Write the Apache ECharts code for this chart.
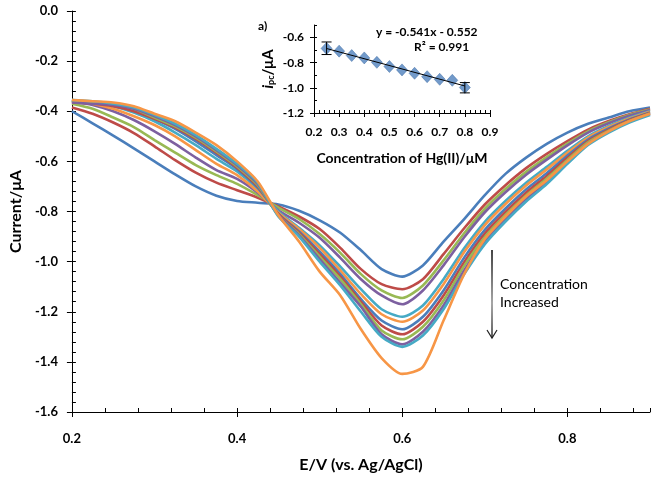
<!DOCTYPE html>
<html>
<head>
<meta charset="utf-8">
<script src="https://cdn.jsdelivr.net/npm/echarts@6.0.0/dist/echarts.min.js"></script>
<style>
  html, body { margin: 0; padding: 0; background: #fff; }
  #chart { width: 652px; height: 482px; }
</style>
</head>
<body>
<div id="chart"></div>
<script>
// potential grid (V vs Ag/AgCl)
const potentials = [0.2, 0.225, 0.25, 0.275, 0.3, 0.325, 0.35, 0.375, 0.4, 0.425, 0.45, 0.475, 0.5, 0.525,
  0.55, 0.575, 0.6, 0.625, 0.65, 0.675, 0.7, 0.725, 0.75, 0.775, 0.8, 0.825, 0.85, 0.875, 0.9]

// current (uA) of each sweep, lowest to highest Hg(II) concentration
const sweep1 = [-0.40, -0.448, -0.497, -0.548, -0.60, -0.652, -0.70, -0.737, -0.758, -0.765, -0.772, -0.797, -0.835, -0.885,
  -0.955, -1.03, -1.06, -1.015, -0.92, -0.83, -0.735, -0.65, -0.585, -0.53, -0.485, -0.45, -0.425, -0.40, -0.385]
const sweep2 = [-0.385, -0.41, -0.445, -0.487, -0.54, -0.595, -0.645, -0.685, -0.715, -0.745, -0.78, -0.82, -0.87, -0.945,
  -1.03, -1.09, -1.11, -1.07, -0.97, -0.867, -0.772, -0.695, -0.627, -0.57, -0.519, -0.473, -0.439, -0.412, -0.39]
const sweep3 = [-0.37, -0.39, -0.425, -0.463, -0.515, -0.565, -0.615, -0.655, -0.69, -0.735, -0.785, -0.83, -0.89, -0.965,
  -1.05, -1.115, -1.145, -1.095, -0.995, -0.887, -0.789, -0.71, -0.642, -0.583, -0.529, -0.48, -0.444, -0.415, -0.393]
const sweep4 = [-0.36, -0.375, -0.40, -0.435, -0.48, -0.53, -0.585, -0.635, -0.67, -0.725, -0.795, -0.845, -0.905, -0.985,
  -1.07, -1.135, -1.17, -1.115, -1.015, -0.903, -0.803, -0.723, -0.653, -0.593, -0.536, -0.485, -0.448, -0.418, -0.395]
const sweep5 = [-0.355, -0.365, -0.38, -0.405, -0.44, -0.485, -0.535, -0.59, -0.64, -0.71, -0.80, -0.865, -0.935, -1.02,
  -1.11, -1.19, -1.22, -1.175, -1.07, -0.947, -0.841, -0.758, -0.685, -0.622, -0.558, -0.50, -0.459, -0.426, -0.40]
const sweep6 = [-0.355, -0.37, -0.39, -0.42, -0.455, -0.50, -0.555, -0.61, -0.655, -0.72, -0.805, -0.87, -0.945, -1.035,
  -1.13, -1.21, -1.24, -1.195, -1.09, -0.962, -0.854, -0.77, -0.696, -0.632, -0.566, -0.505, -0.463, -0.429, -0.402]
const sweep7 = [-0.36, -0.365, -0.375, -0.395, -0.43, -0.47, -0.52, -0.575, -0.63, -0.705, -0.81, -0.88, -0.96, -1.05,
  -1.15, -1.235, -1.27, -1.22, -1.115, -0.984, -0.873, -0.788, -0.712, -0.647, -0.577, -0.513, -0.469, -0.433, -0.405]
const sweep8 = [-0.365, -0.37, -0.38, -0.40, -0.43, -0.465, -0.51, -0.565, -0.625, -0.70, -0.81, -0.885, -0.97, -1.06,
  -1.16, -1.255, -1.29, -1.24, -1.135, -1.002, -0.888, -0.802, -0.725, -0.658, -0.586, -0.519, -0.473, -0.436, -0.407]
const sweep9 = [-0.36, -0.365, -0.37, -0.39, -0.425, -0.46, -0.505, -0.56, -0.62, -0.695, -0.815, -0.89, -0.98, -1.07,
  -1.17, -1.275, -1.31, -1.26, -1.155, -1.017, -0.902, -0.814, -0.736, -0.668, -0.594, -0.524, -0.477, -0.439, -0.409]
const sweep10 = [-0.365, -0.37, -0.375, -0.39, -0.42, -0.455, -0.50, -0.555, -0.615, -0.69, -0.815, -0.895, -0.99, -1.085,
  -1.18, -1.29, -1.33, -1.28, -1.175, -1.035, -0.917, -0.828, -0.749, -0.68, -0.602, -0.53, -0.481, -0.442, -0.412]
const sweep11 = [-0.355, -0.36, -0.37, -0.385, -0.415, -0.45, -0.495, -0.55, -0.61, -0.685, -0.82, -0.90, -1.0, -1.095,
  -1.20, -1.30, -1.34, -1.295, -1.19, -1.05, -0.93, -0.84, -0.76, -0.69, -0.61, -0.535, -0.485, -0.445, -0.415]
const sweep12 = [-0.355, -0.36, -0.365, -0.38, -0.41, -0.44, -0.485, -0.535, -0.60, -0.68, -0.815, -0.92, -1.04, -1.135,
  -1.27, -1.385, -1.448, -1.42, -1.235, -1.05, -0.91, -0.82, -0.74, -0.675, -0.60, -0.53, -0.48, -0.44, -0.41]

// inset: calibration
const concentrations = [0.25, 0.3, 0.35, 0.4, 0.45, 0.5, 0.55, 0.6, 0.65, 0.7, 0.75, 0.8]
const peakCurrents = [-0.686, -0.708, -0.743, -0.762, -0.797, -0.830, -0.857, -0.884, -0.911, -0.932, -0.94, -0.997]
const trendEnds = [[0.25, -0.687], [0.8, -0.985]]
const errorBars = [[0.25, -0.635, -0.735], [0.8, -0.958, -1.04]] // x, high, low

const sweeps = [sweep1, sweep2, sweep3, sweep4, sweep5, sweep6, sweep7, sweep8, sweep9, sweep10, sweep11, sweep12]
const palette = ['#4a7ebb', '#be4b48', '#98b954', '#7d60a0', '#46aac5', '#f79646']

const FONT = 'Lato, "Open Sans", sans-serif'
const labelStyle = { color: '#000', fontFamily: FONT, fontWeight: 'bold', fontSize: 13 }
const blackLine = { show: true, onZero: false, lineStyle: { color: '#000', width: 1 } }

// extra axis on the same grid, only for the small inward ticks
function minorAxis(grid, position, min, max, interval, len) {
  return {
    type: 'value', gridIndex: grid, position, offset: 0, min, max, interval,
    axisLine: { show: false, onZero: false },
    axisTick: { show: true, inside: true, length: len, lineStyle: { color: '#000' } },
    axisLabel: { show: false },
    splitLine: { show: false },
  }
}

const chart = echarts.init(document.getElementById('chart'), null, { renderer: 'canvas' })

const series = sweeps.map((s, i) => ({
  type: 'line',
  xAxisIndex: 0,
  yAxisIndex: 0,
  data: potentials.map((e, j) => [e, s[j]]),
  smooth: 0.25,
  symbol: 'none',
  lineStyle: { color: palette[i % 6], width: 2.6 },
  z: 2 + i,
}))

series.push({
  type: 'scatter',
  xAxisIndex: 2,
  yAxisIndex: 2,
  data: concentrations.map((c, i) => [c, peakCurrents[i]]),
  symbol: 'diamond',
  symbolSize: [11, 12],
  itemStyle: { color: '#4f81bd', borderColor: '#3a6aa3', borderWidth: 0.6 },
  z: 20,
})
series.push({
  type: 'custom',
  xAxisIndex: 2,
  yAxisIndex: 2,
  data: errorBars,
  renderItem: (params, api) => {
    const top = api.coord([api.value(0), api.value(1)])
    const bot = api.coord([api.value(0), api.value(2)])
    const w = 5
    const st = { stroke: '#000', lineWidth: 1 }
    return {
      type: 'group',
      children: [
        { type: 'line', shape: { x1: top[0], y1: top[1], x2: bot[0], y2: bot[1] }, style: st },
        { type: 'line', shape: { x1: top[0] - w, y1: top[1], x2: top[0] + w, y2: top[1] }, style: st },
        { type: 'line', shape: { x1: bot[0] - w, y1: bot[1], x2: bot[0] + w, y2: bot[1] }, style: st },
      ],
    }
  },
  z: 21,
})
series.push({
  type: 'line',
  xAxisIndex: 2,
  yAxisIndex: 2,
  data: trendEnds,
  symbol: 'none',
  lineStyle: { color: '#000', width: 1 },
  z: 22,
})

chart.setOption({
  animation: false,
  backgroundColor: '#fff',
  grid: [
    { left: 69, right: 2, top: 11, bottom: 70 },
    { left: 314, top: 25, width: 176, height: 88 },
  ],
  xAxis: [
    {
      type: 'value', gridIndex: 0, position: 'bottom', min: 0.2, max: 0.9, interval: 0.2,
      axisLine: blackLine,
      axisTick: { show: true, length: 5, lineStyle: { color: '#000' } },
      axisLabel: { ...labelStyle, margin: 20, showMaxLabel: false, formatter: (v) => v.toFixed(1) },
      splitLine: { show: false },
      name: 'E/V (vs. Ag/AgCl)',
      nameLocation: 'middle',
      nameGap: 45,
      nameTextStyle: { color: '#000', fontFamily: FONT, fontWeight: 'bold', fontSize: 16 },
    },
    minorAxis(0, 'bottom', 0.2, 0.9, 0.04, 4),
    {
      type: 'value', gridIndex: 1, position: 'bottom', min: 0.2, max: 0.9, interval: 0.1,
      axisLine: blackLine,
      axisTick: { show: true, length: 4, lineStyle: { color: '#000' } },
      axisLabel: { ...labelStyle, fontSize: 12, margin: 13, formatter: (v) => v.toFixed(1) },
      splitLine: { show: false },
      name: 'Concentration of Hg(II)/μM',
      nameLocation: 'middle',
      nameGap: 38,
      nameTextStyle: { color: '#000', fontFamily: FONT, fontWeight: 'bold', fontSize: 14 },
    },
    minorAxis(1, 'bottom', 0.2, 0.9, 0.02, 3),
  ],
  yAxis: [
    {
      type: 'value', gridIndex: 0, position: 'left', min: -1.6, max: 0, interval: 0.2,
      axisLine: blackLine,
      axisTick: { show: true, length: 5, lineStyle: { color: '#000' } },
      axisLabel: { ...labelStyle, margin: 14, formatter: (v) => v.toFixed(1) },
      splitLine: { show: false },
      name: 'Current/μA',
      nameLocation: 'middle',
      nameRotate: 90,
      nameGap: 46,
      nameTextStyle: { color: '#000', fontFamily: FONT, fontWeight: 'bold', fontSize: 16 },
    },
    minorAxis(0, 'left', -1.6, 0, 0.04, 4),
    {
      type: 'value', gridIndex: 1, position: 'left', min: -1.2, max: -0.5, interval: 0.2,
      axisLine: blackLine,
      axisTick: { show: true, length: 4, lineStyle: { color: '#000' } },
      axisLabel: { ...labelStyle, fontSize: 12, margin: 10, showMaxLabel: false, formatter: (v) => v.toFixed(1) },
      splitLine: { show: false },
      name: '{i|i}{sub|pc}{n|/μA}',
      nameLocation: 'middle',
      nameRotate: 90,
      nameGap: 38,
      nameTextStyle: {
        rich: {
          i: { fontFamily: FONT, fontStyle: 'italic', fontWeight: 'bold', fontSize: 15, color: '#000' },
          sub: { fontFamily: FONT, fontWeight: 'bold', fontSize: 9, color: '#000', verticalAlign: 'bottom', padding: [6, 0, 0, 0] },
          n: { fontFamily: FONT, fontWeight: 'bold', fontSize: 15, color: '#000' },
        },
      },
    },
    minorAxis(1, 'left', -1.2, -0.5, 0.1, 3),
  ],
  series,
  graphic: [
    { type: 'text', left: 258, top: 20, style: { text: 'a)', font: 'bold 12px ' + FONT, fill: '#000' } },
    { type: 'text', left: 376, top: 26, style: { text: 'y = -0.541x - 0.552', font: 'bold 12px ' + FONT, fill: '#000' } },
    { type: 'text', left: 414, top: 41, style: { text: 'R² = 0.991', font: 'bold 12px ' + FONT, fill: '#000' } },
    {
      type: 'line',
      shape: { x1: 492, y1: 250, x2: 492, y2: 338 },
      style: {
        lineWidth: 1.5,
        stroke: new echarts.graphic.LinearGradient(0, 0, 0, 1, [
          { offset: 0, color: '#000' },
          { offset: 0.6, color: '#888' },
          { offset: 1, color: '#222' },
        ]),
      },
    },
    { type: 'polyline', shape: { points: [[487, 330], [492, 338], [497, 330]] }, style: { stroke: '#222', lineWidth: 1.2, fill: null } },
    { type: 'text', left: 500, top: 277, style: { text: 'Concentration', font: '14px ' + FONT, fill: '#000' } },
    { type: 'text', left: 500, top: 295, style: { text: 'Increased', font: '14px ' + FONT, fill: '#000' } },
  ],
})
</script>
</body>
</html>
